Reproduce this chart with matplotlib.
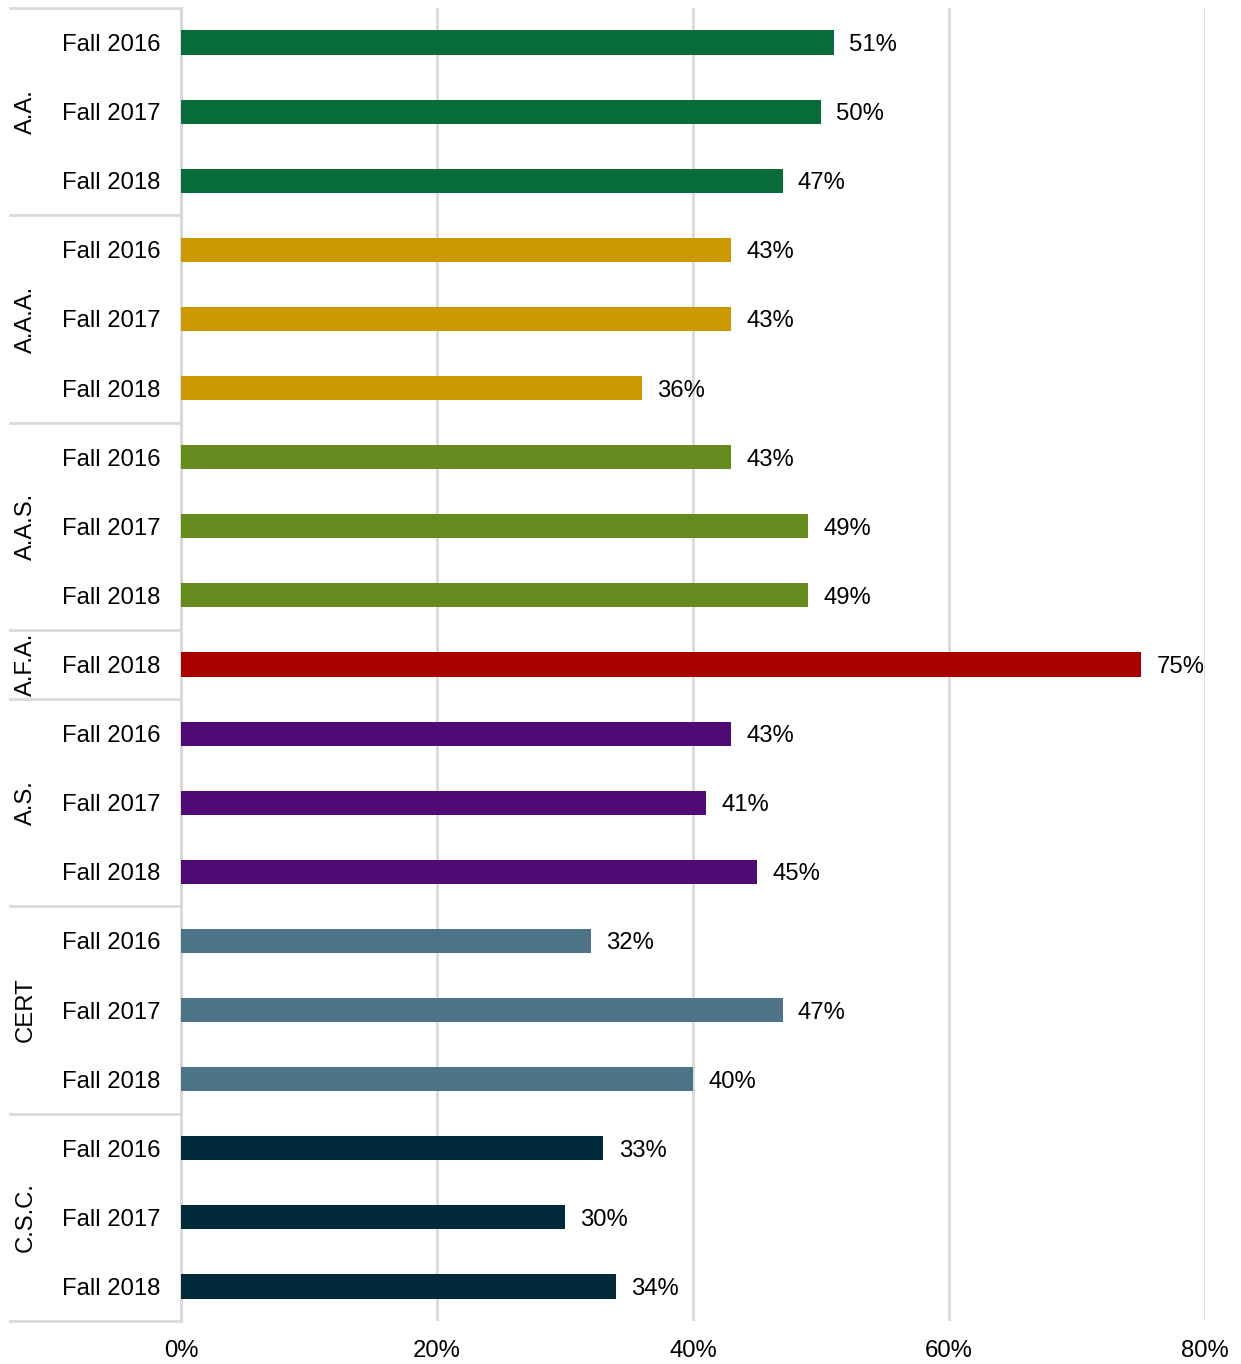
import numpy as np
import matplotlib.pyplot as plt
from matplotlib.transforms import blended_transform_factory

# data
groups = ['A.A.', 'A.A.A.', 'A.A.S.', 'A.F.A.', 'A.S.', 'CERT', 'C.S.C.']
terms = [['Fall 2016', 'Fall 2017', 'Fall 2018'],
         ['Fall 2016', 'Fall 2017', 'Fall 2018'],
         ['Fall 2016', 'Fall 2017', 'Fall 2018'],
         ['Fall 2018'],
         ['Fall 2016', 'Fall 2017', 'Fall 2018'],
         ['Fall 2016', 'Fall 2017', 'Fall 2018'],
         ['Fall 2016', 'Fall 2017', 'Fall 2018']]
values = [[51, 50, 47],
          [43, 43, 36],
          [43, 49, 49],
          [75],
          [43, 41, 45],
          [32, 47, 40],
          [33, 30, 34]]
colors = ['#076B3A', '#CC9900', '#658B1E', '#AA0000', '#4F0A73', '#4D7389', '#002A3A']
xticks = [0, 20, 40, 60, 80]

plt.rcParams['font.family'] = ['Liberation Sans', 'DejaVu Sans']
fs = 17.2

fig = plt.figure(figsize=(12.41, 13.64), dpi=100)
ax = fig.add_axes([181/1241, 1-1321/1364, 1024/1241, 1313/1364])

labels = []
pos = 0
bounds = [-0.5]
group_mid = []
for g, ts, vs, c in zip(groups, terms, values, colors):
    ys = np.arange(pos, pos + len(vs))
    ax.barh(ys, vs, height=0.35, color=c, zorder=3)
    for y, v in zip(ys, vs):
        ax.annotate(f'{v}%', (v, y), xytext=(11, 0), textcoords='offset points',
                    va='center_baseline', ha='left', fontsize=fs)
    labels += ts
    group_mid.append(pos + (len(vs) - 1) / 2)
    pos += len(vs)
    bounds.append(pos - 0.5)

ax.set_xlim(0, 80)
ax.set_ylim(pos - 0.5, -0.5)
ax.set_yticks(np.arange(pos))
ax.set_yticklabels(labels, fontsize=fs)
ax.set_xticks(xticks)
ax.set_xticklabels([f'{t}%' for t in xticks], fontsize=fs)
ax.tick_params(axis='y', length=0, pad=15)
ax.tick_params(axis='x', length=0, pad=14)
ax.grid(axis='x', color='#D9D9D9', linewidth=2, zorder=0)
for s in ['top', 'right', 'bottom']:
    ax.spines[s].set_visible(False)
ax.spines['left'].set_color('#D9D9D9')
ax.spines['left'].set_linewidth(2)

# group separators and labels in the left margin
trans = blended_transform_factory(ax.transAxes, ax.transData)
x0 = (10 - 181) / 1024
for b in bounds:
    ax.plot([x0, 0], [b, b], color='#D9D9D9', lw=2, transform=trans, clip_on=False)
for g, m in zip(groups, group_mid):
    ax.text((26 - 181) / 1024, m, g, rotation=90, ha='center', va='center',
            fontsize=fs, transform=trans)

fig.savefig('out.png', dpi=100)
